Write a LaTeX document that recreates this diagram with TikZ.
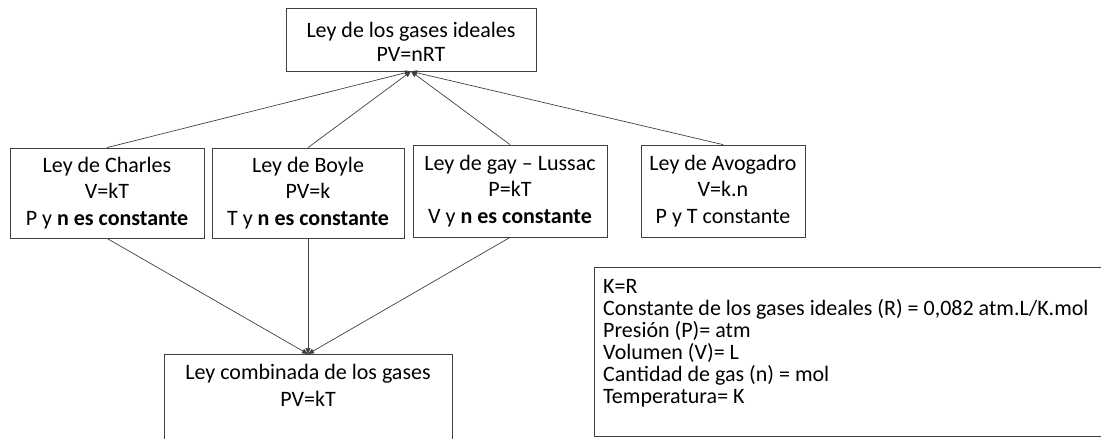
\documentclass[tikz,border=0pt]{standalone}
\usepackage{fontspec}
\setmainfont{Carlito}
\usetikzlibrary{arrows.meta,calc}

\tikzset{
  frame/.style={draw=black!75, line width=0.8pt, inner sep=0pt},
  law/.style={frame, align=center, font=\fontsize{22}{26.5}\selectfont},
  link/.style={draw=black!75, line width=0.7pt},
  tolaw/.style={link, -{Triangle[length=6pt,width=5pt]}},
  txt/.style={align=center, inner sep=0pt, font=\fontsize{22}{26.5}\selectfont},
  legendtxt/.style={align=left, inner sep=0pt, font=\fontsize{22}{22}\selectfont}
}

\begin{document}
\begin{tikzpicture}[x=1pt,y=-1pt]
\useasboundingbox (0,0) rectangle (1101,439);

% ideal gas law
\node[frame, minimum width=250pt, minimum height=63pt] (ideal) at (411,39.5) {};
\node[txt, font=\fontsize{22}{23.5}\selectfont] (idealtext) at (411,42)
  {Ley de los gases ideales\\PV=nRT};

% the four particular laws
\node[law, minimum width=194pt, minimum height=90pt] (charles) at (107,193)
  {Ley de Charles\\V=kT\\P y \textbf{n es constante}};
\node[law, minimum width=192pt, minimum height=90pt] (boyle) at (308,193)
  {Ley de Boyle\\PV=k\\T y \textbf{n es constante}};
\node[law, minimum width=194pt, minimum height=92pt] (gay) at (510,191)
  {Ley de gay -- Lussac\\P=kT\\V y \textbf{n es constante}};
\node[law, minimum width=164pt, minimum height=92pt] (avogadro) at (723,191)
  {Ley de Avogadro\\V=k.n\\P y T constante};

% combined gas law (the box runs past the lower edge)
\node[frame, minimum width=288pt, minimum height=120pt, anchor=north]
  (comb) at (308,354) {};
\node[txt, anchor=center] (combtext) at (308,385.5)
  {Ley combinada de los gases\\PV=kT};

% units box (runs past the right edge)
\node[frame, minimum width=520pt, minimum height=169pt, anchor=south west]
  (units) at (594,437) {};
\node[legendtxt, anchor=west] (unitstext) at (603,343)
  {K=R\\
   Constante de los gases ideales (R) = 0,082 atm.L/K.mol\\
   Presión (P)= atm\\
   Volumen (V)= L\\
   Cantidad de gas (n) = mol\\
   Temperatura= K};

% connectors to the ideal gas law
\draw[tolaw] (charles.north) -- (ideal.south);
\draw[tolaw] (boyle.north) -- (ideal.south);
\draw[tolaw] (gay.north) -- (ideal.south);
\draw[tolaw] (avogadro.north) -- (ideal.south);

% connectors to the combined gas law
\draw[tolaw] (charles.south) -- (comb.north);
\draw[tolaw] (boyle.south) -- (comb.north);
\draw[tolaw] (gay.south) -- (comb.north);
\end{tikzpicture}
\end{document}
